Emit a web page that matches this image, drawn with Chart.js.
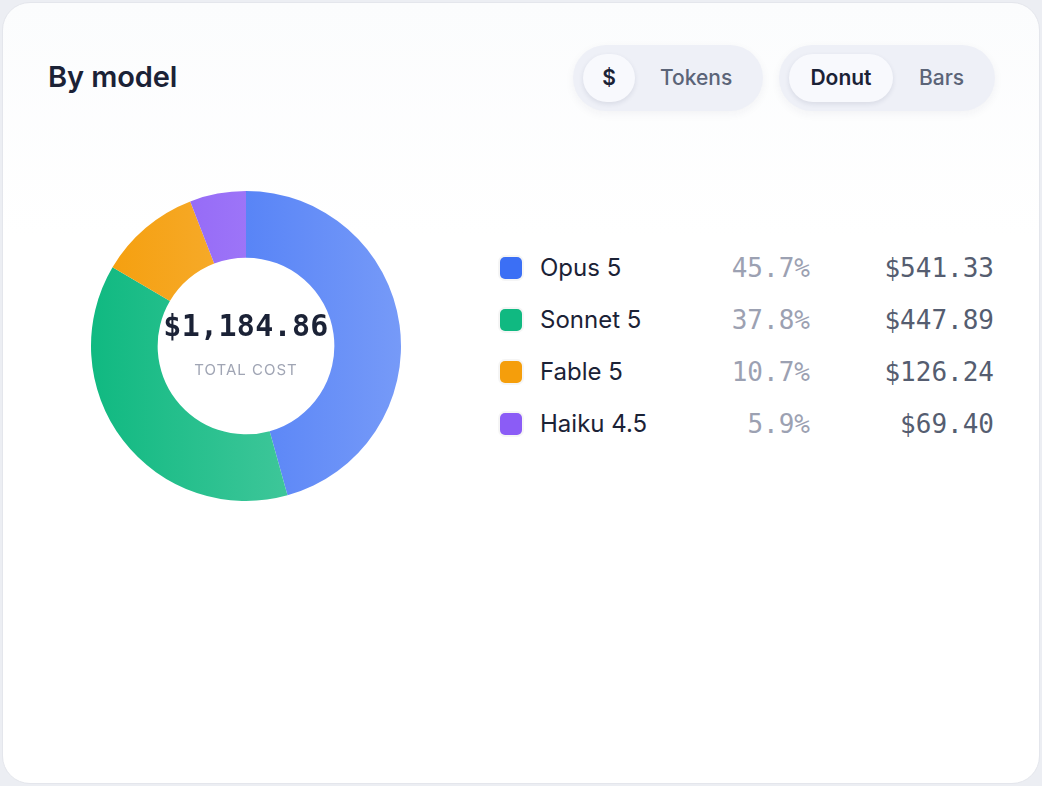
<!DOCTYPE html>
<html>
<head>
<meta charset="utf-8">
<script src="https://cdn.jsdelivr.net/npm/chart.js@4/dist/chart.umd.min.js"></script>
<style>
  html, body { margin: 0; padding: 0; width: 1042px; height: 786px; background: #eceef3; overflow: hidden; }
  body { font-family: Inter, "Noto Sans", sans-serif; }
  .card {
    position: absolute; left: 2px; top: 2px; width: 1036px; height: 780px;
    background: linear-gradient(180deg, #fbfcfd 0%, #ffffff 30%);
    border: 1px solid #e4e6ec; border-radius: 28px;
  }
  h2 { position: absolute; left: 45px; top: 56px; margin: 0; font-size: 29px; font-weight: 600; color: #1b2236; letter-spacing: -0.1px; }
  .seg {
    position: absolute; top: 42px; height: 66px; border-radius: 33px; background: #eef0f7;
    box-shadow: 0 3px 10px rgba(30, 40, 80, 0.05);
  }
  .seg span { position: absolute; top: 0; line-height: 66px; font-size: 21px; color: #5b6478; font-weight: 500; }
  .seg .on {
    top: 9px; height: 48px; line-height: 48px; border-radius: 24px; background: #f8f9fd; color: #1b2236; font-weight: 600;
    box-shadow: 0 2px 5px rgba(30, 40, 80, 0.10); text-align: center;
  }
  #chartBox { position: absolute; left: 86px; top: 186px; width: 320px; height: 320px; }
  .center { position: absolute; left: 86px; top: 186px; width: 320px; height: 320px; pointer-events: none; }
  .total { position: absolute; left: 0; width: 320px; top: 122px; text-align: center; font-family: "DejaVu Sans Mono", monospace; font-weight: 700; font-size: 30px; color: #1b2236; letter-spacing: 0.3px; }
  .sub { position: absolute; left: 0; width: 320px; top: 174px; text-align: center; font-size: 15px; letter-spacing: 1px; color: #a0a5b4; }
  .legend { position: absolute; left: 500px; top: 242px; width: 494px; }
  .row { position: relative; height: 52px; }
  .sw { position: absolute; left: 0; top: 15px; width: 22px; height: 22px; border-radius: 5px; box-shadow: 0 0 0 2px rgba(0,0,0,0.04); }
  .name { position: absolute; left: 40px; top: 0; line-height: 52px; font-size: 24px; color: #1b2236; }
  .pct { position: absolute; right: 184px; top: 0; line-height: 52px; font-family: "DejaVu Sans Mono", monospace; font-size: 26px; color: #9ca1b2; }
  .val { position: absolute; right: 0; top: 0; line-height: 52px; font-family: "DejaVu Sans Mono", monospace; font-size: 26px; color: #555d70; }
</style>
</head>
<body>
<div class="card">
  <h2>By model</h2>
  <div class="seg" style="left:570px;width:190px;">
    <span class="on" style="left:10px;width:52px;">$</span>
    <span style="left:87px;">Tokens</span>
  </div>
  <div class="seg" style="left:776px;width:216px;">
    <span class="on" style="left:10px;width:104px;">Donut</span>
    <span style="left:140px;">Bars</span>
  </div>
</div>
<div id="chartBox"><canvas id="myChart"></canvas></div>
<div class="center">
  <div class="total" id="total"></div>
  <div class="sub">TOTAL COST</div>
</div>
<div class="legend" id="legend"></div>

<script>
let labels = ['Opus 5', 'Sonnet 5', 'Fable 5', 'Haiku 4.5'];
let costs = [541.33, 447.89, 126.24, 69.40];
let colorHex = ['#3b6ff5', '#10b981', '#f59e0b', '#8b5cf6'];

let total = costs.reduce((a, b) => a + b, 0);
let money = (v) => '$' + v.toLocaleString('en-US', { minimumFractionDigits: 2, maximumFractionDigits: 2 });
document.getElementById('total').textContent = money(total);

// legend rows
let legend = document.getElementById('legend');
labels.forEach((name, i) => {
  let pct = (costs[i] / total * 100).toFixed(1) + '%';
  legend.innerHTML += '<div class="row"><div class="sw" style="background:' + colorHex[i] + '"></div>' +
    '<div class="name">' + name + '</div><div class="pct">' + pct + '</div>' +
    '<div class="val">' + money(costs[i]) + '</div></div>';
});

// lighten a hex color toward white
function lighten(hex, amt) {
  let n = parseInt(hex.slice(1), 16);
  let r = (n >> 16) & 255, g = (n >> 8) & 255, b = n & 255;
  r = Math.round(r + (255 - r) * amt);
  g = Math.round(g + (255 - g) * amt);
  b = Math.round(b + (255 - b) * amt);
  return 'rgb(' + r + ',' + g + ',' + b + ')';
}

let ctx = document.getElementById('myChart').getContext('2d');
let myChart = new Chart(ctx, {
  type: 'doughnut',
  data: {
    labels: labels,
    datasets: [{
      data: costs,
      borderWidth: 0,
      backgroundColor: (context) => {
        let chart = context.chart;
        let area = chart.chartArea;
        let base = colorHex[context.dataIndex];
        if (!area) return base;
        let g = chart.ctx.createLinearGradient(area.left, 0, area.right, 0);
        g.addColorStop(0, base);
        g.addColorStop(1, lighten(base, 0.3));
        return g;
      }
    }]
  },
  options: {
    responsive: true,
    maintainAspectRatio: false,
    animation: false,
    cutout: '57%',
    layout: { padding: 5 },
    plugins: {
      legend: { display: false },
      tooltip: { enabled: false }
    }
  }
});
</script>
</body>
</html>
